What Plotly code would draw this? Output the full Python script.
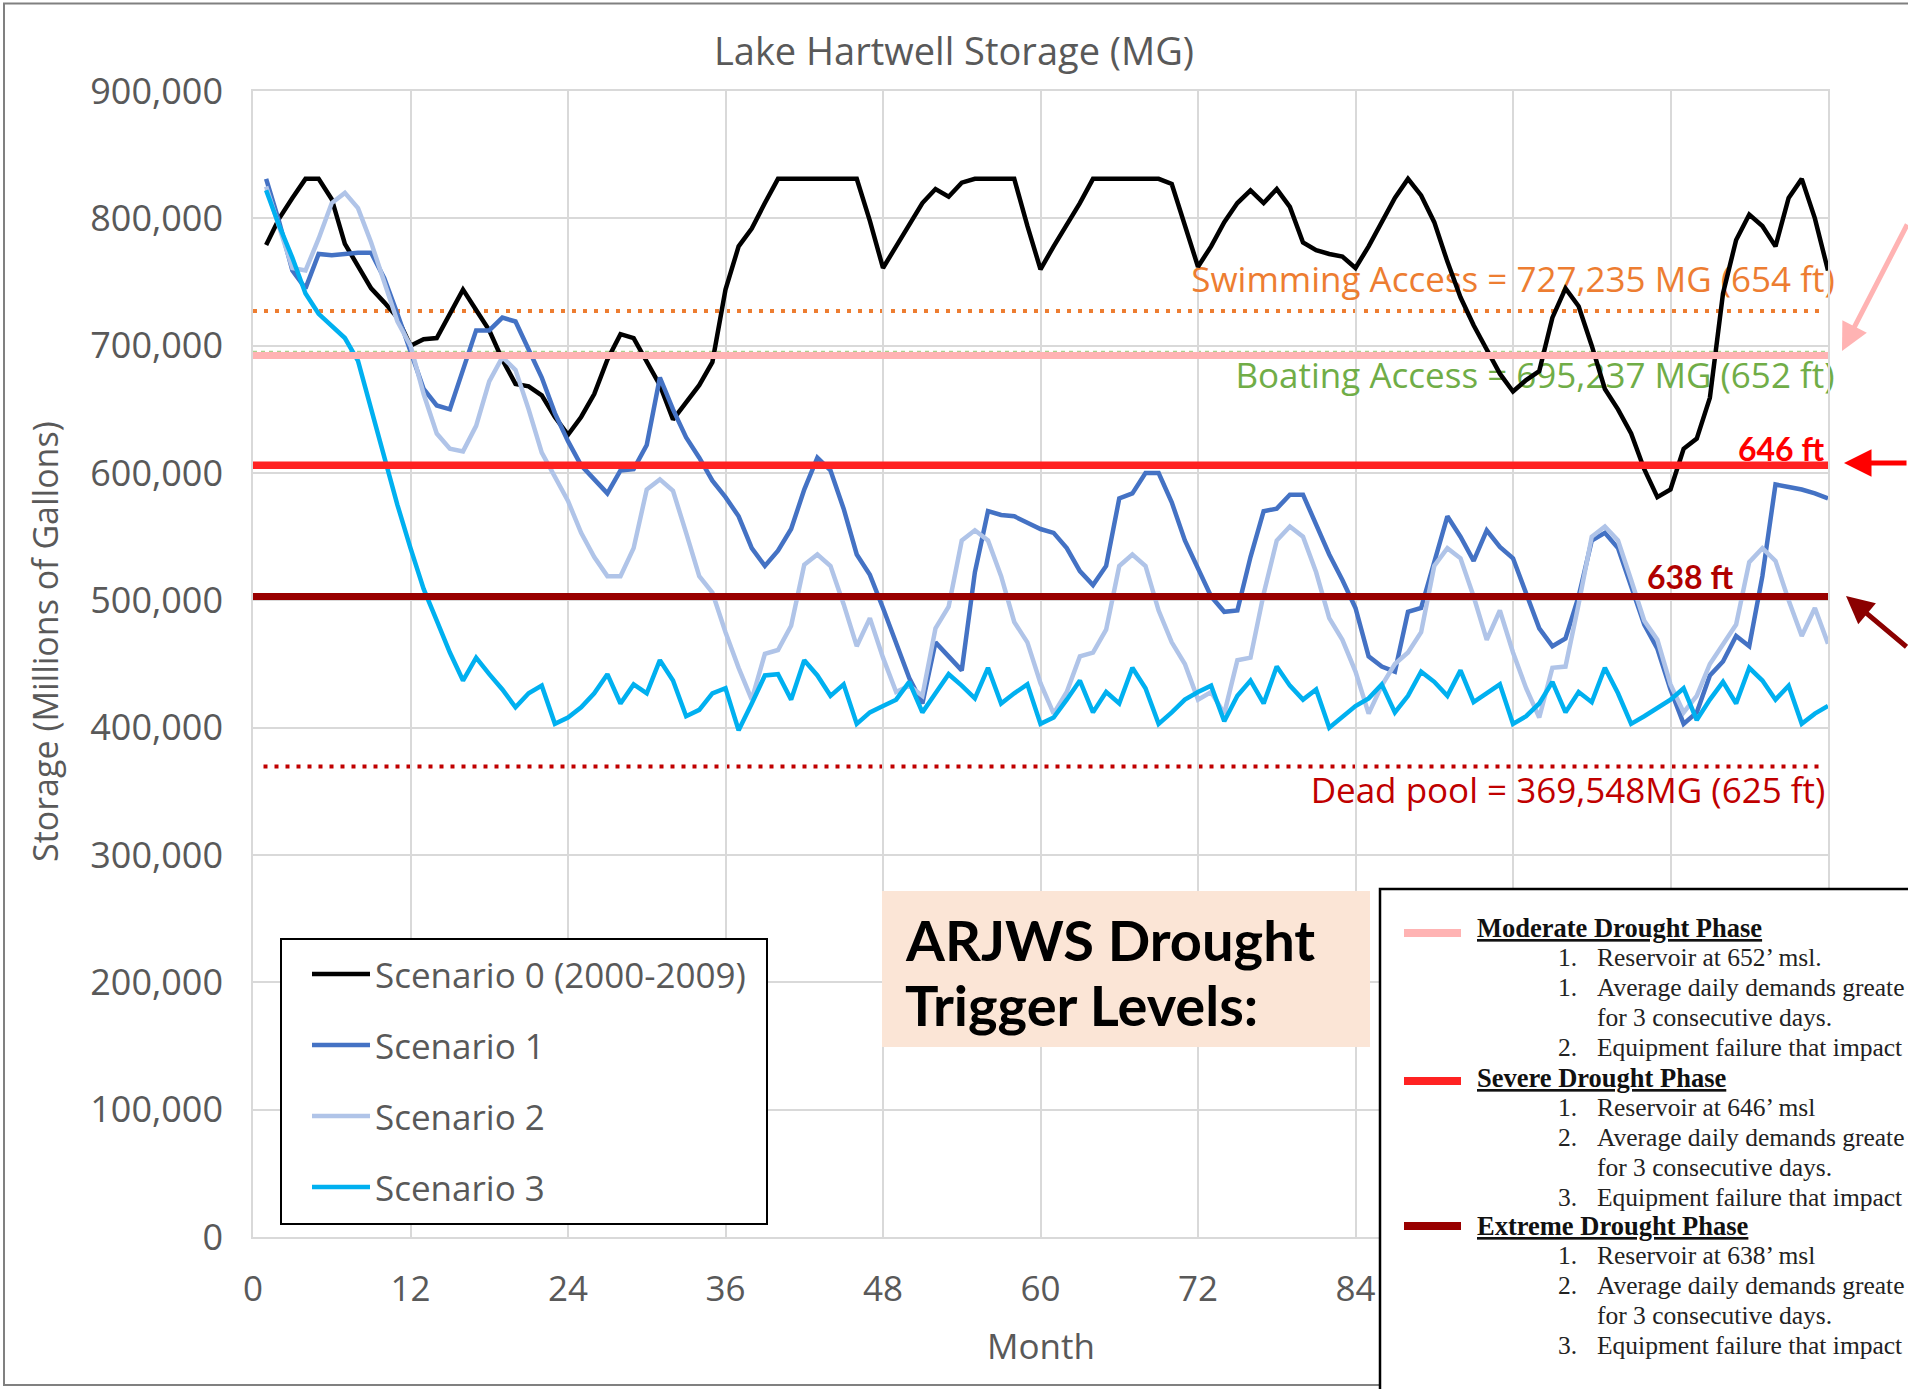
import plotly.graph_objects as go

# ---------------- data ----------------
months = list(range(1, 121))

scenario_0 = [779000, 800000, 816000, 831000, 831000, 815000, 780000, 762000, 745000, 734000,
              722000, 700000, 705000, 706000, 725000, 744000, 728000, 712000, 689000, 670000,
              668000, 661000, 644000, 630000, 644000, 662000, 689000, 709000, 706000, 688000,
              669000, 642000, 655000, 669000, 687000, 744000, 778000, 792000, 812000, 831000,
              831000, 831000, 831000, 831000, 831000, 831000, 798000, 761000, 778000, 795000,
              812000, 823000, 817000, 828000, 831000, 831000, 831000, 831000, 794000, 760000,
              778000, 795000, 812000, 831000, 831000, 831000, 831000, 831000, 831000, 827000,
              795000, 762000, 778000, 797000, 812000, 822000, 812000, 823000, 809000, 781000,
              775000, 772000, 770000, 761000, 778000, 797000, 816000, 831000, 818000, 797000,
              766000, 738000, 716000, 697000, 678000, 664000, 673000, 680000, 722000, 745000,
              731000, 700000, 666000, 650000, 631000, 603000, 581000, 587000, 619000, 627000,
              659000, 741000, 783000, 803000, 794000, 778000, 816000, 831000, 800000, 759000]

scenario_1 = [831000, 797000, 759000, 745000, 772000, 771000, 772000, 773000, 773000, 753000,
              725000, 695000, 666000, 653000, 650000, 681000, 712000, 712000, 722000, 719000,
              697000, 675000, 647000, 625000, 606000, 595000, 584000, 602000, 603000, 622000,
              675000, 650000, 628000, 612000, 594000, 581000, 566000, 541000, 527000, 539000,
              556000, 587000, 612000, 602000, 572000, 536000, 520000, 494000, 466000, 439000,
              419000, 467000, 456000, 445000, 522000, 570000, 567000, 566000, 561000, 556000,
              553000, 541000, 523000, 512000, 527000, 580000, 584000, 600000, 600000, 577000,
              547000, 525000, 503000, 491000, 492000, 534000, 570000, 572000, 583000, 583000,
              559000, 536000, 516000, 494000, 456000, 448000, 444000, 491000, 494000, 531000,
              566000, 550000, 531000, 555000, 542000, 533000, 505000, 478000, 464000, 470000,
              503000, 547000, 553000, 541000, 511000, 481000, 462000, 430000, 403000, 412000,
              441000, 452000, 472000, 464000, 519000, 591000, 589000, 587000, 584000, 580000]

scenario_2 = [825000, 794000, 761000, 759000, 784000, 812000, 820000, 808000, 781000, 750000,
              719000, 700000, 662000, 631000, 619000, 617000, 637000, 672000, 691000, 681000,
              650000, 616000, 597000, 578000, 553000, 534000, 519000, 519000, 541000, 587000,
              595000, 586000, 553000, 519000, 506000, 475000, 447000, 422000, 458000, 461000,
              480000, 528000, 536000, 527000, 497000, 464000, 486000, 455000, 428000, 433000,
              425000, 478000, 495000, 547000, 555000, 547000, 519000, 483000, 467000, 435000,
              411000, 428000, 456000, 459000, 477000, 527000, 536000, 527000, 492000, 467000,
              450000, 422000, 428000, 411000, 453000, 455000, 505000, 547000, 558000, 550000,
              522000, 486000, 469000, 444000, 411000, 433000, 450000, 459000, 475000, 527000,
              541000, 533000, 503000, 469000, 492000, 459000, 431000, 408000, 447000, 448000,
              497000, 550000, 558000, 547000, 516000, 484000, 469000, 434000, 412000, 425000,
              450000, 466000, 481000, 530000, 541000, 531000, 500000, 472000, 494000, 466000]

scenario_3 = [822000, 794000, 769000, 741000, 725000, 716000, 706000, 688000, 650000, 613000,
              575000, 541000, 509000, 484000, 459000, 437000, 455000, 442000, 430000, 416000,
              427000, 433000, 403000, 408000, 416000, 427000, 442000, 419000, 434000, 427000,
              453000, 437000, 409000, 414000, 427000, 431000, 398000, 419000, 441000, 442000,
              422000, 453000, 441000, 425000, 434000, 403000, 412000, 417000, 422000, 436000,
              412000, 427000, 442000, 433000, 423000, 447000, 419000, 427000, 434000, 403000,
              408000, 422000, 437000, 412000, 428000, 419000, 447000, 431000, 403000, 412000,
              422000, 428000, 433000, 405000, 425000, 437000, 419000, 448000, 433000, 422000,
              430000, 400000, 409000, 417000, 423000, 434000, 412000, 425000, 444000, 436000,
              425000, 445000, 420000, 427000, 434000, 403000, 409000, 419000, 436000, 412000,
              428000, 420000, 447000, 427000, 403000, 409000, 416000, 422000, 431000, 406000,
              422000, 436000, 419000, 447000, 437000, 422000, 433000, 403000, 411000, 417000]

series_names = ["Scenario 0 (2000-2009)", "Scenario 1", "Scenario 2", "Scenario 3"]
series_colors = ["#000000", "#4472C4", "#B0C4E8", "#00B0F0"]

swimming_level = 727235
boating_level = 695237
moderate_level = 692300
severe_level = 606000
extreme_level = 503000
dead_pool_level = 369548

x_ticks = [0, 12, 24, 36, 48, 60, 72, 84, 96, 108, 120]
x_tick_text = ["0", "12", "24", "36", "48", "60", "72", "84", "", "", ""]  # last ones hidden by the inset
y_ticks = [0, 100000, 200000, 300000, 400000, 500000, 600000, 700000, 800000, 900000]

# excerpt of the drought plan (cropped at the right edge in the original picture)
doc_headings = ["Moderate Drought Phase", "Severe Drought Phase", "Extreme Drought Phase"]
doc_heading_colors = ["#FFB3B3", "#FF2222", "#990000"]
doc_items = [
    [("1.", "Reservoir at 652\u2019 msl."), ("1.", "Average daily demands greate"),
     ("", "for 3 consecutive days."), ("2.", "Equipment failure that impact")],
    [("1.", "Reservoir at 646\u2019 msl"), ("2.", "Average daily demands greate"),
     ("", "for 3 consecutive days."), ("3.", "Equipment failure that impact")],
    [("1.", "Reservoir at 638\u2019 msl"), ("2.", "Average daily demands greate"),
     ("", "for 3 consecutive days."), ("3.", "Equipment failure that impact")],
]

# ---------------- layout helpers (pixel -> paper / data) ----------------
W, H = 1908, 1389
PL, PR, PT, PB = 253, 1828, 91, 1237
X_MAX, Y_MAX = 120, 900000


def pxx(x):
    return (x - PL) / (PR - PL)


def pxy(y):
    return (PB - y) / (PB - PT)


def dx(x):
    return (x - PL) / (PR - PL) * X_MAX


def dy(y):
    return (PB - y) / (PB - PT) * Y_MAX


CHART_FONT = "Open Sans, Lato, sans-serif"
GRAY = "#595959"
LINE_W = 4.5

fig = go.Figure()

# labels of the reference levels (drawn under the series, like in the chart)
level_labels = [
    ("Swimming Access = 727,235 MG (654 ft)", "#ED7D31", 1513, 283),
    ("Boating Access = 695,237 MG (652 ft)", "#70AD47", 1535, 379),
    ("Dead pool = 369,548MG (625 ft)", "#C00000", 1568, 794),
]
for txt, col, xpix, ypix in level_labels:
    fig.add_trace(go.Scatter(
        x=[dx(xpix)], y=[dy(ypix)], mode="text", text=[txt],
        textposition="middle center",
        textfont=dict(family=CHART_FONT, size=35, color=col),
        cliponaxis=False, showlegend=False, hoverinfo="skip"))

for name, vals, col in zip(series_names, [scenario_0, scenario_1, scenario_2, scenario_3], series_colors):
    fig.add_trace(go.Scatter(
        x=months, y=vals, mode="lines", name=name, showlegend=False,
        line=dict(color=col, width=LINE_W)))

shapes = []
annotations = []
# outer frame
shapes.append(dict(type="rect", xref="paper", yref="paper",
                   x0=pxx(4), x1=pxx(1930), y0=pxy(3.5), y1=pxy(1385),
                   line=dict(color="#808080", width=2), fillcolor="rgba(0,0,0,0)", layer="above"))
# dotted chart levels
shapes.append(dict(type="line", xref="x", yref="y", x0=0, x1=119.7,
                   y0=swimming_level, y1=swimming_level,
                   line=dict(color="#ED7D31", width=4, dash="4px,7px"), layer="below"))
shapes.append(dict(type="line", xref="x", yref="y", x0=0, x1=120,
                   y0=boating_level, y1=boating_level,
                   line=dict(color="#A9D18E", width=2, dash="4px,4px"), layer="below"))
shapes.append(dict(type="line", xref="x", yref="y", x0=0.8, x1=119.7,
                   y0=dead_pool_level, y1=dead_pool_level,
                   line=dict(color="#C00000", width=4, dash="4px,7px"), layer="below"))
# drought trigger lines
for lvl, col, w in [(moderate_level, "#FFB3B3", 7), (severe_level, "#FF2222", 7.5),
                    (extreme_level, "#990000", 7)]:
    shapes.append(dict(type="line", xref="x", yref="y", x0=0, x1=120, y0=lvl, y1=lvl,
                       line=dict(color=col, width=w), layer="above"))

# legend box (drawn as an inset, like the original)
shapes.append(dict(type="rect", xref="paper", yref="paper",
                   x0=pxx(281), x1=pxx(767), y0=pxy(939), y1=pxy(1224),
                   fillcolor="white", line=dict(color="black", width=2), layer="above"))
legend_y = [974, 1045, 1116, 1187]
for name, col, ly in zip(series_names, series_colors, legend_y):
    shapes.append(dict(type="line", xref="paper", yref="paper",
                       x0=pxx(312), x1=pxx(370), y0=pxy(ly), y1=pxy(ly),
                       line=dict(color=col, width=LINE_W), layer="above"))
    annotations.append(dict(xref="paper", yref="paper", x=pxx(373), y=pxy(ly),
                            xanchor="left", yanchor="middle", showarrow=False, text=name,
                            font=dict(family=CHART_FONT, size=35, color=GRAY)))

# peach title box
shapes.append(dict(type="rect", xref="paper", yref="paper",
                   x0=pxx(882), x1=pxx(1370), y0=pxy(891), y1=pxy(1047),
                   fillcolor="#FBE5D6", line=dict(width=0), layer="above"))
# document box
shapes.append(dict(type="rect", xref="paper", yref="paper",
                   x0=pxx(1380), x1=pxx(1940), y0=pxy(889), y1=pxy(1420),
                   fillcolor="white", line=dict(color="black", width=2.5), layer="above"))

DOC_FONT = "Liberation Serif, Times New Roman, serif"
head_y = [928, 1078, 1226]
sample_y = [933, 1081, 1226]
for i, (head, col) in enumerate(zip(doc_headings, doc_heading_colors)):
    shapes.append(dict(type="line", xref="paper", yref="paper",
                       x0=pxx(1404), x1=pxx(1461), y0=pxy(sample_y[i]), y1=pxy(sample_y[i]),
                       line=dict(color=col, width=8), layer="above"))
    annotations.append(dict(xref="paper", yref="paper", x=pxx(1475), y=pxy(head_y[i]),
                            xanchor="left", yanchor="middle", showarrow=False, text=head,
                            font=dict(family=DOC_FONT, size=26.5, color="#111111",
                                      weight="bold", lineposition="under")))
    for j, (num, txt) in enumerate(doc_items[i]):
        yy = head_y[i] + 29.8 * (j + 1)
        if num:
            annotations.append(dict(xref="paper", yref="paper", x=pxx(1556), y=pxy(yy),
                                    xanchor="left", yanchor="middle", showarrow=False, text=num,
                                    font=dict(family=DOC_FONT, size=25.5, color="#222222")))
        annotations.append(dict(xref="paper", yref="paper", x=pxx(1595), y=pxy(yy),
                                xanchor="left", yanchor="middle", showarrow=False, text=txt,
                                font=dict(family=DOC_FONT, size=25.5, color="#222222")))

# trigger labels
annotations.append(dict(xref="paper", yref="paper", x=pxx(1826), y=pxy(448), xanchor="right",
                        yanchor="middle", showarrow=False, text="646 ft",
                        font=dict(family="Lato, sans-serif", size=32, color="#FF0000", weight="bold")))
annotations.append(dict(xref="paper", yref="paper", x=pxx(1735), y=pxy(576), xanchor="right",
                        yanchor="middle", showarrow=False, text="638 ft",
                        font=dict(family="Lato, sans-serif", size=32, color="#B00000", weight="bold")))
annotations.append(dict(xref="paper", yref="paper", x=pxx(903), y=pxy(939), xanchor="left",
                        yanchor="middle", showarrow=False, text="ARJWS Drought",
                        font=dict(family="Lato, sans-serif", size=56, color="black", weight="bold")))
annotations.append(dict(xref="paper", yref="paper", x=pxx(903), y=pxy(1005), xanchor="left",
                        yanchor="middle", showarrow=False, text="Trigger Levels:",
                        font=dict(family="Lato, sans-serif", size=56, color="black", weight="bold")))
# axis titles
annotations.append(dict(xref="paper", yref="paper", x=pxx(1041), y=pxy(1345), xanchor="center",
                        yanchor="middle", showarrow=False, text="Month",
                        font=dict(family=CHART_FONT, size=35, color=GRAY)))
annotations.append(dict(xref="paper", yref="paper", x=pxx(45), y=pxy(641), xanchor="center",
                        yanchor="middle", showarrow=False, text="Storage (Millions of Gallons)",
                        textangle=-90, font=dict(family=CHART_FONT, size=34, color=GRAY)))
# arrows from the right
for hx, hy, ax, ay, col in [(1842, 351, 80, -128, "#FFB3B3"),
                            (1844, 463, 90, 0, "#FF0000"),
                            (1846, 596, 85, 52, "#8B0000")]:
    annotations.append(dict(xref="paper", yref="paper", x=pxx(hx), y=pxy(hy), ax=ax, ay=ay,
                            text="", showarrow=True, arrowhead=2, arrowsize=1.1,
                            arrowwidth=5, arrowcolor=col, standoff=0))

fig.update_layout(
    width=W, height=H,
    margin=dict(l=PL, r=W - PR, t=PT, b=H - PB, pad=0),
    paper_bgcolor="white", plot_bgcolor="white",
    showlegend=False,
    title=dict(text="Lake Hartwell Storage (MG)", x=0.5, xref="container", xanchor="center",
               y=1 - 52 / H, yref="container", yanchor="middle",
               font=dict(family=CHART_FONT, size=38, color=GRAY)),
    xaxis=dict(range=[0, X_MAX], tickvals=x_ticks, ticktext=x_tick_text, showgrid=True,
               gridcolor="#D9D9D9", gridwidth=1.5, showline=True, linecolor="#D9D9D9",
               linewidth=1.5, mirror=True, zeroline=False, ticks="", ticklabelstandoff=20,
               tickfont=dict(family=CHART_FONT, size=35, color=GRAY)),
    yaxis=dict(range=[0, Y_MAX], tickvals=y_ticks, tickformat=",", showgrid=True,
               gridcolor="#D9D9D9", gridwidth=1.5, showline=True, linecolor="#D9D9D9",
               linewidth=1.5, mirror=True, zeroline=False, ticks="", ticklabelstandoff=21,
               tickfont=dict(family=CHART_FONT, size=36, color=GRAY)),
    shapes=shapes,
    annotations=annotations,
)

fig.write_html("out.html")
